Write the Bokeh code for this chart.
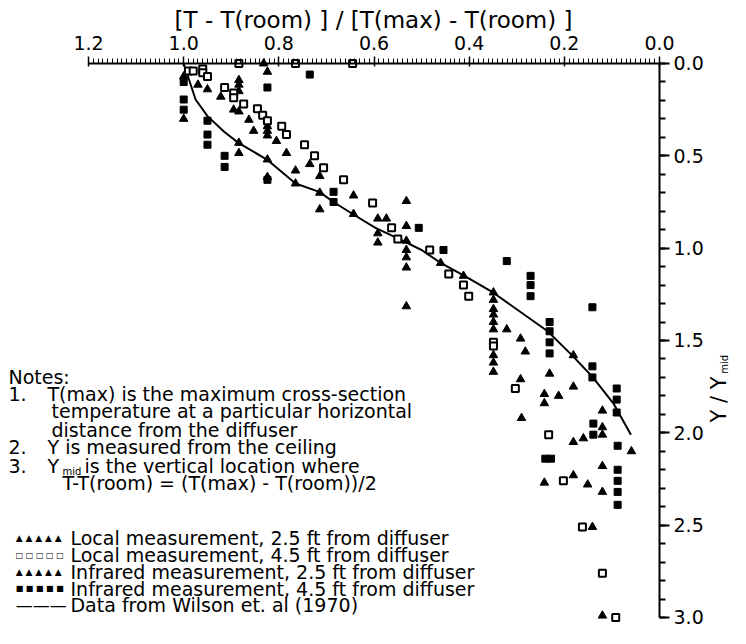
import numpy as np
from bokeh.plotting import figure
from bokeh.models import Range1d, FixedTicker, PrintfTickFormatter, Label
from bokeh.embed import file_html
from bokeh.resources import INLINE

# ---- data ----
# Local measurement, 2.5 ft from diffuser (triangles)
loc25_x = [1.0, 1.0, 0.97, 0.95, 0.922, 0.895, 0.884, 0.863, 0.853, 0.884, 0.884, 0.832,
           0.824, 0.824, 0.805, 0.784, 0.735, 0.714, 0.765, 0.765, 0.714, 0.714, 0.643, 0.643,
           0.592, 0.574, 0.532, 0.532, 0.532, 0.46, 0.412, 0.321, 0.292, 0.282, 0.292, 0.29,
           0.231, 0.242, 0.242, 0.212, 0.181, 0.181, 0.12, 0.181, 0.16, 0.059, 0.12, 0.242,
           0.181, 0.151, 0.12, 0.141, 0.12, 0.824]
loc25_y = [0.07, 0.30, 0.115, 0.14, 0.18, 0.25, 0.26, 0.305, 0.365, 0.43, 0.485, 0.0,
           0.52, 0.615, 0.42, 0.485, 0.545, 0.61, 0.58, 0.65, 0.70, 0.79, 0.715, 0.815,
           0.84, 0.84, 0.745, 0.88, 1.315, 1.08, 1.15, 1.44, 1.49, 1.56, 1.71, 1.92,
           1.68, 1.79, 1.84, 1.80, 1.58, 1.75, 1.88, 2.05, 2.03, 2.10, 2.18, 2.27,
           2.23, 2.28, 2.32, 2.51, 2.99, 0.045]

# Local measurement, 4.5 ft from diffuser (open squares)
loc45_x = [0.99, 0.98, 0.96, 0.96, 0.95, 0.914, 0.895, 0.895, 0.874, 0.845, 0.834, 0.824,
           0.794, 0.784, 0.746, 0.725, 0.706, 0.664, 0.603, 0.563, 0.55, 0.483, 0.443, 0.412,
           0.401, 0.349, 0.349, 0.303, 0.233, 0.202, 0.162, 0.12, 0.092, 0.884, 0.765, 0.645]
loc45_y = [0.04, 0.04, 0.03, 0.05, 0.07, 0.13, 0.16, 0.185, 0.22, 0.245, 0.28, 0.31,
           0.34, 0.385, 0.44, 0.50, 0.565, 0.63, 0.755, 0.89, 0.95, 1.01, 1.14, 1.2,
           1.26, 1.51, 1.53, 1.76, 2.01, 2.26, 2.51, 2.76, 3.0, 0.0, 0.0, 0.0]

# Infrared measurement, 2.5 ft from diffuser (triangles)
ir25_x = [0.884, 0.884, 0.884, 0.824, 0.824, 0.824, 0.592, 0.592, 0.532, 0.532, 0.532, 0.532,
          0.349, 0.349, 0.349, 0.349, 0.349, 0.349, 0.349, 0.349, 0.349, 0.12, 0.12]
ir25_y = [0.09, 0.115, 0.15, 0.34, 0.365, 0.39, 0.92, 0.97, 0.96, 1.01, 1.05, 1.105,
          1.24, 1.28, 1.33, 1.36, 1.40, 1.44, 1.58, 1.62, 1.67, 1.97, 2.01]

# Infrared measurement, 4.5 ft from diffuser (filled squares)
ir45_x = [1.0, 1.0, 1.0, 0.95, 0.95, 0.95, 0.914, 0.914, 0.824, 0.824, 0.735, 0.685,
          0.685, 0.506, 0.454, 0.321, 0.271, 0.271, 0.271, 0.231, 0.231, 0.231, 0.231, 0.141,
          0.141, 0.141, 0.09, 0.09, 0.09, 0.139, 0.139, 0.088, 0.24, 0.228, 0.088, 0.088,
          0.088, 0.088]
ir45_y = [0.10, 0.195, 0.25, 0.31, 0.385, 0.44, 0.50, 0.56, 0.13, 0.63, 0.06, 0.695,
          0.75, 0.89, 1.01, 1.07, 1.15, 1.2, 1.26, 1.40, 1.45, 1.51, 1.57, 1.32,
          1.64, 1.70, 1.76, 1.82, 1.89, 1.95, 2.01, 2.07, 2.14, 2.14, 2.2, 2.26,
          2.32, 2.39]

# Data from Wilson et. al (1970)
wil_x = [1.0, 0.975, 0.95, 0.915, 0.885, 0.825, 0.765, 0.715, 0.685, 0.645, 0.597, 0.55,
         0.50, 0.46, 0.41, 0.35, 0.235, 0.18, 0.14, 0.097, 0.06]
wil_y = [0.0, 0.195, 0.285, 0.37, 0.43, 0.52, 0.65, 0.695, 0.75, 0.815, 0.89, 0.947,
         1.01, 1.08, 1.15, 1.24, 1.45, 1.59, 1.70, 1.84, 2.01]

x_ticks = [0.0, 0.2, 0.4, 0.6, 0.8, 1.0, 1.2]
y_ticks = [0.0, 0.5, 1.0, 1.5, 2.0, 2.5, 3.0]

legend_labels = ["Local measurement, 2.5 ft from diffuser",
                 "Local measurement, 4.5 ft from diffuser",
                 "Infrared measurement, 2.5 ft from diffuser",
                 "Infrared measurement, 4.5 ft from diffuser",
                 "Data from Wilson et. al (1970)"]

FONT = "DejaVu Sans"

# The frame covers the whole canvas so that notes, legend and titles are not clipped;
# the axes are pinned at x = 0 and y = 0 and bounded to the data extent.
p = figure(width=730, height=628,
           x_range=Range1d(1.385, -0.1492), y_range=Range1d(3.0596, -0.3411),
           x_axis_location="above", y_axis_location="right",
           output_backend="svg", toolbar_location=None)
p.min_border = 0
p.outline_line_color = None
p.xgrid.grid_line_color = None
p.ygrid.grid_line_color = None
p.background_fill_color = "white"
p.border_fill_color = "white"

xa = p.xaxis[0]
xa.fixed_location = 0.0
xa.bounds = (0.0, 1.2)
xa.ticker = FixedTicker(ticks=x_ticks,
                        minor_ticks=[round(v, 2) for v in np.arange(0, 1.2001, 0.01)])
xa.formatter = PrintfTickFormatter(format="%.1f")
xa.major_label_text_font = FONT
xa.major_label_text_font_size = "19px"
xa.major_label_text_color = "black"
xa.axis_line_width = 2
xa.axis_line_color = "black"
xa.major_tick_out = 7
xa.major_tick_in = 3
xa.minor_tick_out = 5
xa.minor_tick_in = 0
xa.major_tick_line_width = 1.5
xa.minor_tick_line_width = 1
xa.major_label_standoff = 6

ya = p.yaxis[0]
ya.fixed_location = 0.0
ya.bounds = (0.0, 3.0)
ya.ticker = FixedTicker(ticks=y_ticks,
                        minor_ticks=[round(v, 1) for v in np.arange(0, 3.001, 0.1)])
ya.formatter = PrintfTickFormatter(format="%.1f")
ya.major_label_text_font = FONT
ya.major_label_text_font_size = "19px"
ya.major_label_text_color = "black"
ya.axis_line_width = 2
ya.axis_line_color = "black"
ya.major_tick_out = 10
ya.major_tick_in = 0
ya.minor_tick_out = 6
ya.minor_tick_in = 0
ya.major_tick_line_width = 2
ya.minor_tick_line_width = 2
ya.major_label_standoff = 4

# ---- marks ----
p.line(wil_x, wil_y, line_width=2, line_color="black")
p.scatter(loc25_x, loc25_y, marker="triangle", size=8.5, fill_color="black", line_color="black")
p.scatter(ir25_x, ir25_y, marker="triangle", size=8.5, fill_color="black", line_color="black")
p.scatter(loc45_x, loc45_y, marker="square", size=7, fill_color="white", line_color="black",
          line_width=2)
p.scatter(ir45_x, ir45_y, marker="square", size=7, fill_color="black", line_color="black")

# ---- texts ----
def lab(x, y, text, size="19px", align="left", angle=0.0, baseline="middle"):
    p.add_layout(Label(x=x, y=y, text=text, text_font=FONT, text_font_size=size,
                       text_align=align, text_baseline=baseline, text_color="black",
                       angle=angle))

lab(0.601, -0.2328, "[T - T(room) ] / [T(max) - T(room) ]", size="23px", align="center")

lab(-0.124, 1.944, "Y / Y", size="21px", align="left", angle=np.pi / 2)
lab(-0.1366, 1.68, "mid", size="10px", align="left", angle=np.pi / 2)

lab(1.3682, 1.695, "Notes:")
lab(1.3682, 1.792, "1.")
lab(1.2862, 1.792, "T(max) is the maximum cross-section")
lab(1.2778, 1.884, "temperature at a particular horizontal")
lab(1.2778, 1.982, "distance from the diffuser")
lab(1.3682, 2.079, "2.")
lab(1.2862, 2.079, "Y is measured from the ceiling")
lab(1.3682, 2.177, "3.")
lab(1.2862, 2.177, "Y")
lab(1.2547, 2.212, "mid", size="10px")
lab(1.2085, 2.177, "is the vertical location where")
lab(1.2547, 2.274, "T-T(room) = (T(max) - T(room))/2")

legend_marks = ["\u25b2 \u25b2 \u25b2 \u25b2 \u25b2", "\u25a1 \u25a1 \u25a1 \u25a1 \u25a1",
                "\u25b2 \u25b2 \u25b2 \u25b2 \u25b2", "\u25a0 \u25a0 \u25a0 \u25a0 \u25a0",
                "\u2014\u2014\u2014"]
legend_sizes = ["9px", "8px", "9px", "8px", "17px"]
legend_y = [2.572, 2.664, 2.756, 2.843, 2.935]
for mk, sz, ly, tx in zip(legend_marks, legend_sizes, legend_y, legend_labels):
    lab(1.353, ly, mk, size=sz)
    lab(1.2379, ly, tx)

open("out.html", "w").write(file_html(p, INLINE))
